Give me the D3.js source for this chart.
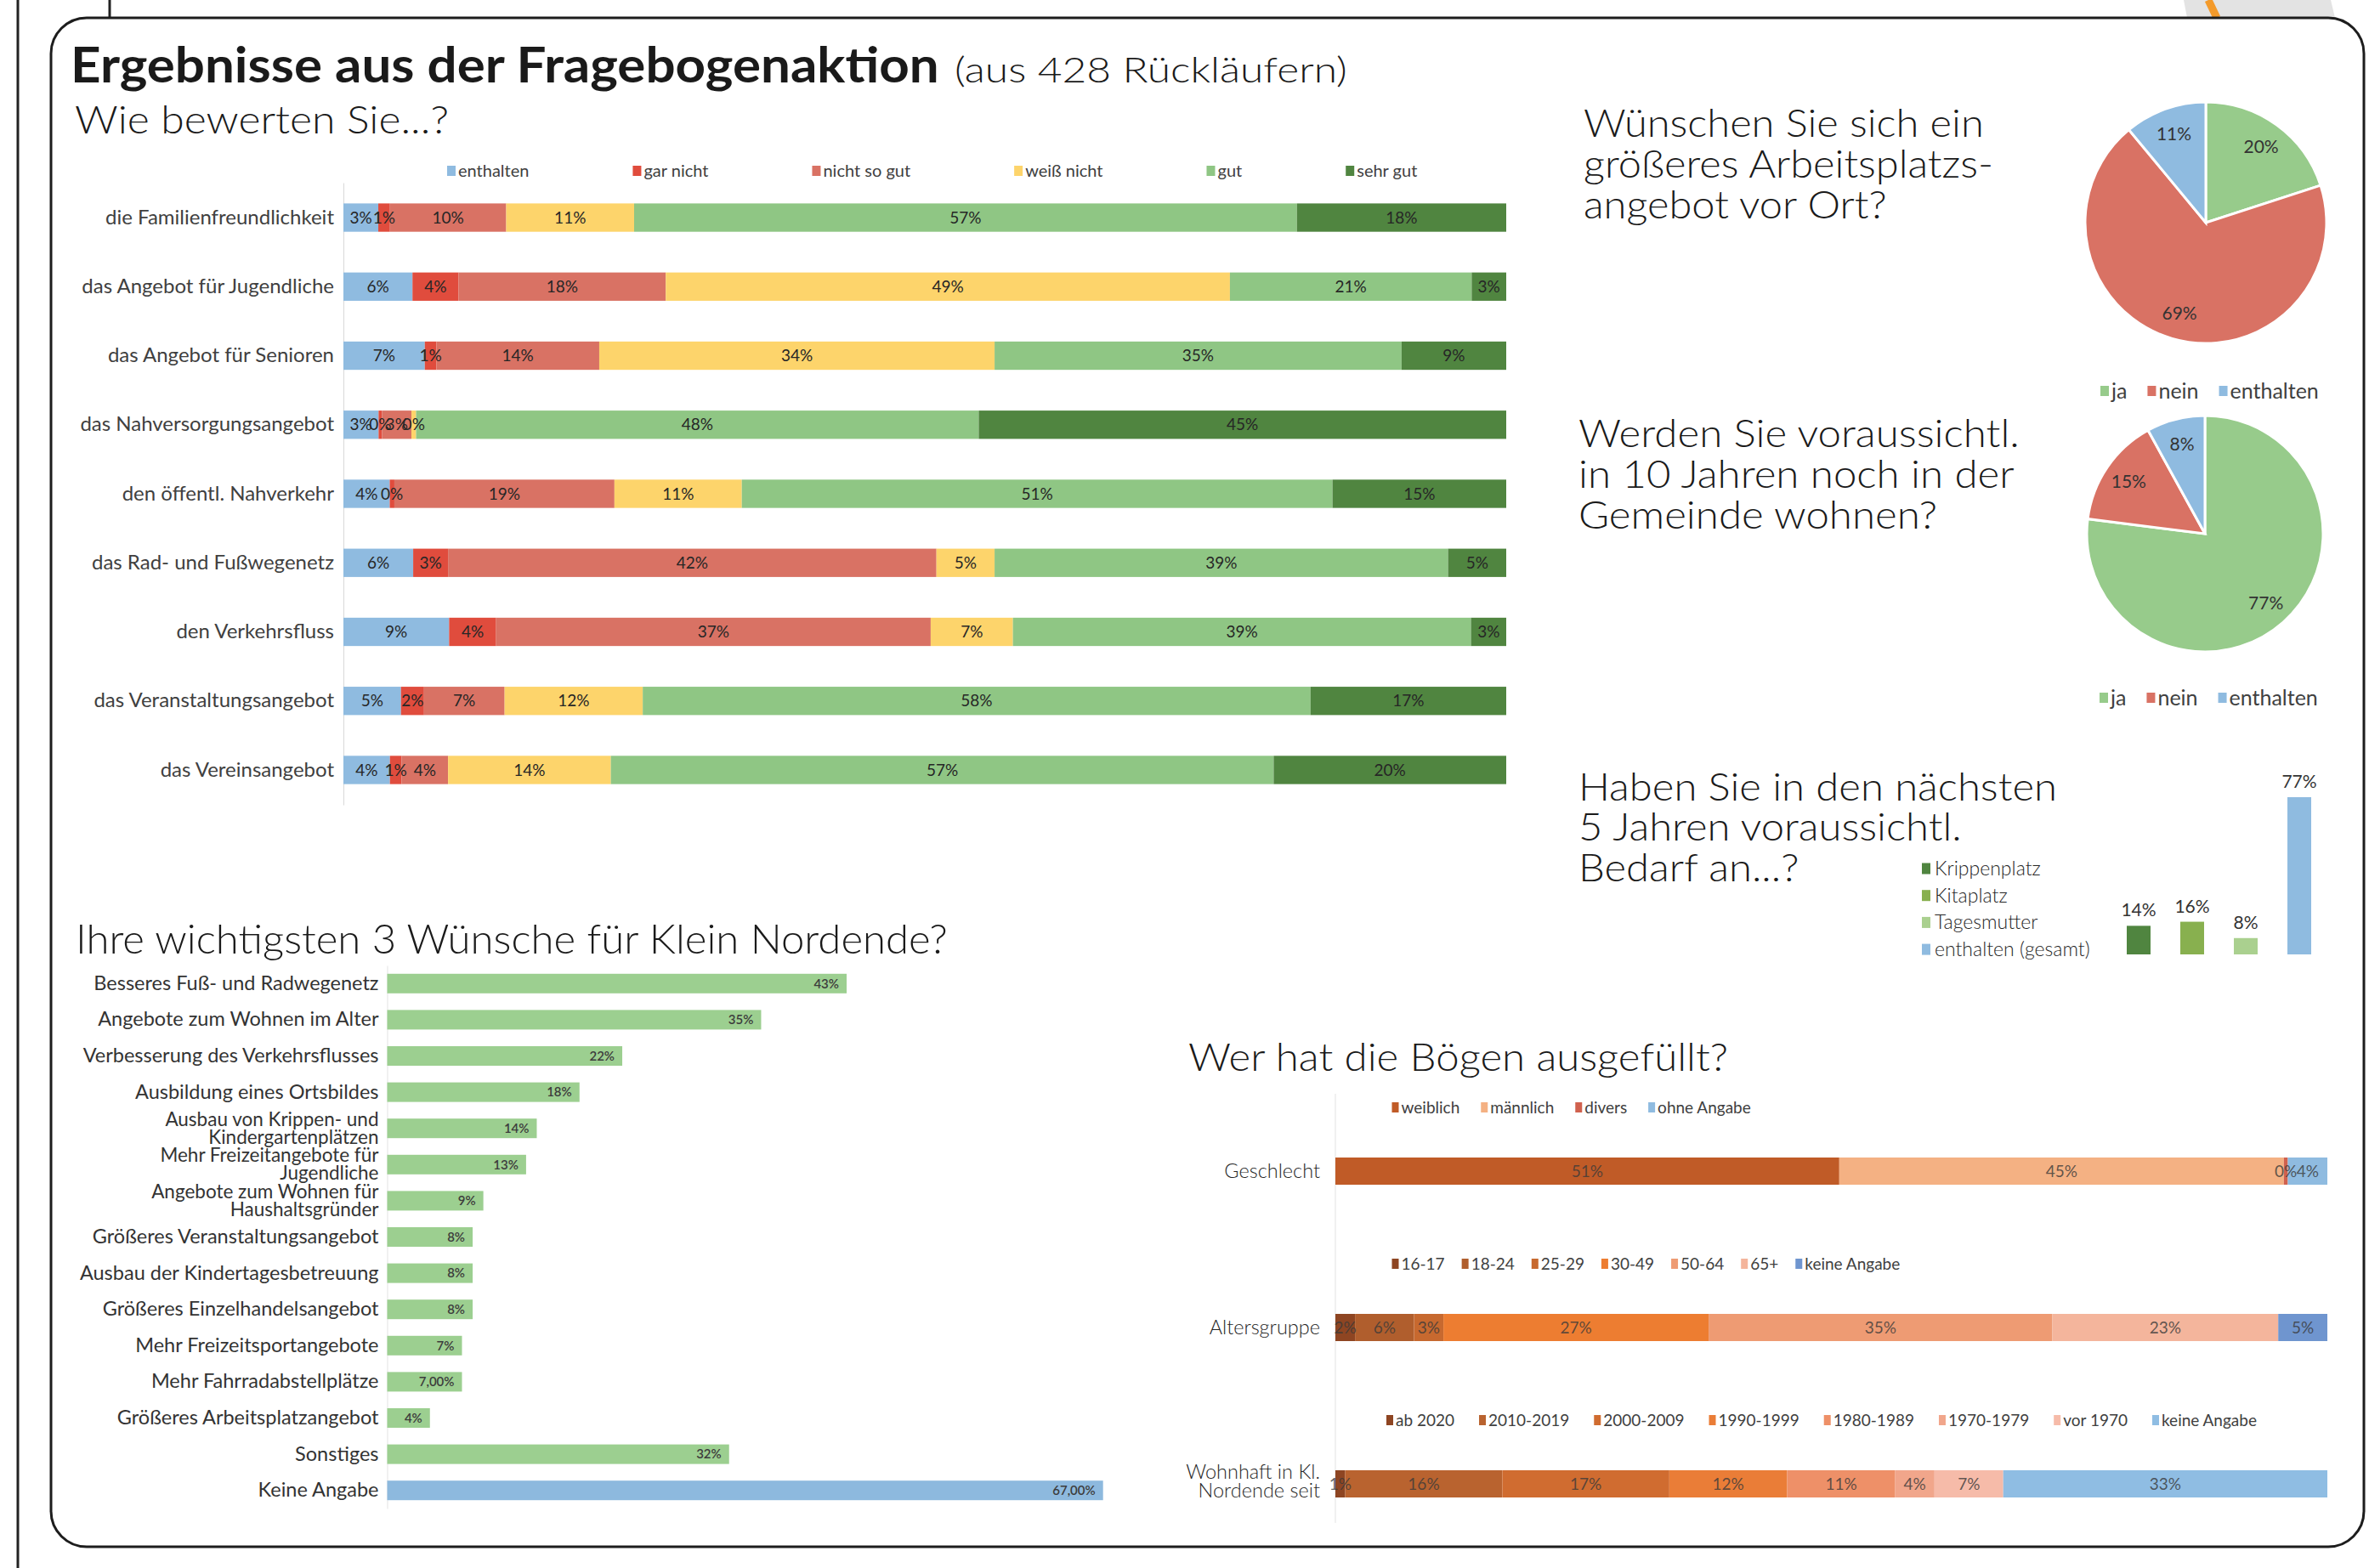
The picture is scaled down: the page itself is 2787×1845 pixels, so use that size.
<!DOCTYPE html>
<html>
<head>
<meta charset="utf-8">
<script src="https://cdn.jsdelivr.net/npm/d3@7"></script>
<style>
  body { margin: 0; background: #fff; }
  svg text { font-family: Lato, "Open Sans", sans-serif; }
</style>
</head>
<body>
<script>
// ---- Wie bewerten Sie...?
const ratingCats = ["die Familienfreundlichkeit", "das Angebot für Jugendliche", "das Angebot für Senioren",
  "das Nahversorgungsangebot", "den öffentl. Nahverkehr", "das Rad- und Fußwegenetz",
  "den Verkehrsfluss", "das Veranstaltungsangebot", "das Vereinsangebot"];
const ratingKeys = ["enthalten", "gar nicht", "nicht so gut", "weiß nicht", "gut", "sehr gut"];
const ratingValues = [
  [3, 1, 10, 11, 57, 18],
  [6, 4, 18, 49, 21, 3],
  [7, 1, 14, 34, 35, 9],
  [3, 0.3, 2.5, 0.4, 48, 45],
  [4, 0.4, 19, 11, 51, 15],
  [6, 3, 42, 5, 39, 5],
  [9, 4, 37, 7, 39, 3],
  [5, 2, 7, 12, 58, 17],
  [4, 1, 4, 14, 57, 20]
];
const ratingColors = ["#8fbbe0", "#e04c3d", "#d97264", "#fdd46b", "#8fc684", "#508540"];

// ---- Pies
const pieKeys = ["ja", "nein", "enthalten"];
const arbeitValues = [20, 69, 11];
const bleibenValues = [77, 15, 8];
const pieColors = ["#97cb8b", "#d97264", "#8fbbe0"];

// ---- Bedarf an...
const bedarfCats = ["Krippenplatz", "Kitaplatz", "Tagesmutter", "enthalten (gesamt)"];
const bedarfValues = [14, 16, 8, 77];
const bedarfColors = ["#508540", "#88b04f", "#aad08f", "#8fbbe0"];

// ---- Wünsche
const wishCats = ["Besseres Fuß- und Radwegenetz", "Angebote zum Wohnen im Alter", "Verbesserung des Verkehrsflusses",
  "Ausbildung eines Ortsbildes", "Ausbau von Krippen- und|Kindergartenplätzen", "Mehr Freizeitangebote für|Jugendliche",
  "Angebote zum Wohnen für|Haushaltsgründer", "Größeres Veranstaltungsangebot", "Ausbau der Kindertagesbetreuung",
  "Größeres Einzelhandelsangebot", "Mehr Freizeitsportangebote", "Mehr Fahrradabstellplätze",
  "Größeres Arbeitsplatzangebot", "Sonstiges", "Keine Angabe"];
const wishValues = [43, 35, 22, 18, 14, 13, 9, 8, 8, 8, 7, 7, 4, 32, 67];
const wishValueText = ["43%", "35%", "22%", "18%", "14%", "13%", "9%", "8%", "8%", "8%", "7%", "7,00%", "4%", "32%", "67,00%"];

// ---- Wer hat die Bögen ausgefüllt?
const groupCats = ["Geschlecht", "Altersgruppe", "Wohnhaft in Kl.|Nordende seit"];
const geschlechtKeys = ["weiblich", "männlich", "divers", "ohne Angabe"];
const geschlechtValues = [51, 45, 0.4, 4];
const geschlechtColors = ["#c05b27", "#f4b183", "#d0614e", "#8fbbe0"];
const alterKeys = ["16-17", "18-24", "25-29", "30-49", "50-64", "65+", "keine Angabe"];
const alterValues = [2, 6, 3, 27, 35, 23, 5];
const alterColors = ["#8e4522", "#b05e2d", "#c7692f", "#ed7d31", "#ee9b73", "#f4b59c", "#6f95cf"];
const wohnKeys = ["ab 2020", "2010-2019", "2000-2009", "1990-1999", "1980-1989", "1970-1979", "vor 1970", "keine Angabe"];
const wohnValues = [1, 16, 17, 12, 11, 4, 7, 33];
const wohnColors = ["#8e4522", "#b9632f", "#d06c30", "#ea7d37", "#ee9068", "#f1a68b", "#f6bba9", "#8fbde3"];

const W = 2787, H = 1845;
const svg = d3.select("body").append("svg").attr("width", W).attr("height", H);
svg.append("rect").attr("width", W).attr("height", H).attr("fill", "#fff");

// page decoration around the frame
svg.append("polygon").attr("points", "2569,0 2742,0 2747,21 2573,21").attr("fill", "#e3e3e3");
svg.append("line").attr("x1", 2598).attr("y1", 0).attr("x2", 2608).attr("y2", 21)
  .attr("stroke", "#f39a2b").attr("stroke-width", 9);
svg.append("line").attr("x1", 21).attr("y1", 0).attr("x2", 21).attr("y2", H).attr("stroke", "#222").attr("stroke-width", 3);
svg.append("line").attr("x1", 129).attr("y1", 0).attr("x2", 129).attr("y2", 21).attr("stroke", "#222").attr("stroke-width", 3);
svg.append("rect").attr("x", 60).attr("y", 21).attr("width", 2721).attr("height", 1799).attr("rx", 42)
  .attr("fill", "#fff").attr("stroke", "#1d1d1d").attr("stroke-width", 3);

// text block, squeezed horizontally so the first line gets the width of the original
function block(lines, x, y, lh, size, weight, w0) {
  const g = svg.append("g");
  const t = g.selectAll("text").data(lines).join("text")
    .attr("x", x).attr("y", (d, i) => y + i * lh)
    .attr("font-size", size).attr("font-weight", weight).attr("fill", "#1a1a1a")
    .text(d => d);
  const k = w0 / t.node().getComputedTextLength();
  g.attr("transform", `translate(${x},0) scale(${k},1) translate(${-x},0)`);
  return g;
}

block(["Ergebnisse aus der Fragebogenaktion"], 83, 97, 0, 58, 700, 1022);
block(["(aus 428 Rückläufern)"], 1123, 97, 0, 42, 300, 462);
block(["Wie bewerten Sie...?"], 88, 157, 0, 46, 300, 440);
block(["Wünschen Sie sich ein", "größeres Arbeitsplatzs-", "angebot vor Ort?"], 1863, 161, 48, 46, 300, 471);
block(["Werden Sie voraussichtl.", "in 10 Jahren noch in der", "Gemeinde wohnen?"], 1857, 526, 48, 46, 300, 519);
block(["Haben Sie in den nächsten", "5 Jahren voraussichtl.", "Bedarf an...?"], 1857, 942, 47.5, 46, 300, 563);
block(["Ihre wichtigsten 3 Wünsche für Klein Nordende?"], 89, 1122, 0, 47, 300, 1026);
block(["Wer hat die Bögen ausgefüllt?"], 1398, 1260, 0, 46, 300, 635);

// horizontal legend, items spaced by text width
function legend(keys, colors, x0, y, gap, size, sw, sh) {
  let lx = x0;
  keys.forEach((k, i) => {
    svg.append("rect").attr("x", lx).attr("y", y - sh / 2).attr("width", sw).attr("height", sh).attr("fill", colors[i]);
    const t = svg.append("text").attr("x", lx + sw + 3).attr("y", y).attr("dy", "0.35em")
      .attr("font-size", size).attr("fill", "#404040").text(k);
    lx += sw + 3 + t.node().getComputedTextLength() + gap;
  });
}

// ===== Wie bewerten Sie...?
const xR = d3.scaleLinear().domain([0, 1]).range([404, 1772]);
const yR = d3.scaleBand().domain(ratingCats).range([215, 947]).paddingInner(0.59).paddingOuter(0.3);
const ratingRows = ratingCats.map((c, i) => {
  const o = { cat: c };
  ratingKeys.forEach((k, j) => o[k] = ratingValues[i][j]);
  return o;
});
const ratingStack = d3.stack().keys(ratingKeys).offset(d3.stackOffsetExpand)(ratingRows);

svg.append("g").attr("transform", `translate(${xR(0)},0)`)
  .call(d3.axisLeft(yR).tickSize(0).tickSizeOuter(0).tickPadding(11))
  .call(g => g.select(".domain").attr("stroke", "#d9d9d9"))
  .call(g => g.selectAll("text").attr("font-family", "Lato").attr("font-size", 24)
    .attr("font-weight", 400).attr("fill", "#404040"));

const rSeries = svg.append("g").selectAll("g").data(ratingStack).join("g")
  .attr("fill", (d, i) => ratingColors[i]);
rSeries.selectAll("rect").data(d => d).join("rect")
  .attr("x", d => xR(d[0])).attr("width", d => xR(d[1]) - xR(d[0]))
  .attr("y", d => yR(d.data.cat)).attr("height", yR.bandwidth());
svg.append("g").selectAll("g").data(ratingStack).join("g")
  .selectAll("text").data(d => d.map(v => ({ v, key: d.key }))).join("text")
  .attr("x", d => (xR(d.v[0]) + xR(d.v[1])) / 2)
  .attr("y", d => yR(d.v.data.cat) + yR.bandwidth() / 2).attr("dy", "0.35em")
  .attr("text-anchor", "middle").attr("font-size", 19).attr("fill", "#262626")
  .text(d => Math.round(d.v.data[d.key]) + "%");

legend(ratingKeys, ratingColors, 526, 201, 122, 20, 10, 12);

// ===== Pies
function pieChart(values, cx, cy, r, legendY) {
  const arcs = d3.pie().sort(null).value(d => d)(values);
  const arc = d3.arc().innerRadius(0).outerRadius(r);
  const labelArc = d3.arc().innerRadius(r * 0.78).outerRadius(r * 0.78);
  const g = svg.append("g").attr("transform", `translate(${cx},${cy})`);
  g.selectAll("path").data(arcs).join("path")
    .attr("d", arc).attr("fill", (d, i) => pieColors[i])
    .attr("stroke", "#fff").attr("stroke-width", 3);
  g.selectAll("text").data(arcs).join("text")
    .attr("transform", d => `translate(${labelArc.centroid(d)})`).attr("dy", "0.35em")
    .attr("text-anchor", "middle").attr("font-size", 21).attr("fill", "#333")
    .text(d => d.data + "%");
  legend(pieKeys, pieColors, cx - 124, legendY, 24, 25, 10, 12);
}
pieChart(arbeitValues, 2595, 262, 142, 460);
pieChart(bleibenValues, 2594, 628, 139, 821);

// ===== Bedarf an...?
const xB = d3.scaleBand().domain(bedarfCats).range([2470.5, 2750.5]).paddingInner(0.556).paddingOuter(0.5);
const yB = d3.scaleLinear().domain([0, d3.max(bedarfValues)]).range([1123, 938]);
svg.append("g").selectAll("rect").data(bedarfCats).join("rect")
  .attr("x", d => xB(d)).attr("width", xB.bandwidth())
  .attr("y", (d, i) => yB(bedarfValues[i])).attr("height", (d, i) => yB(0) - yB(bedarfValues[i]))
  .attr("fill", (d, i) => bedarfColors[i]);
svg.append("g").selectAll("text").data(bedarfCats).join("text")
  .attr("x", d => xB(d) + xB.bandwidth() / 2).attr("y", (d, i) => yB(bedarfValues[i]) - 11)
  .attr("text-anchor", "middle").attr("font-size", 21).attr("fill", "#333")
  .text((d, i) => bedarfValues[i] + "%");
const bl = svg.append("g").selectAll("g").data(bedarfCats).join("g")
  .attr("transform", (d, i) => `translate(2261,${1022 + i * 31.7})`);
bl.append("rect").attr("y", -6.5).attr("width", 10).attr("height", 13).attr("fill", (d, i) => bedarfColors[i]);
bl.append("text").attr("x", 15).attr("dy", "0.35em").attr("font-size", 23).attr("font-weight", 300)
  .attr("fill", "#262626").text(d => d);

// ===== Wünsche
const xW = d3.scaleLinear().domain([0, 100]).range([455.5, 1712.5]);
const yW = d3.scaleBand().domain(wishCats).range([1136, 1775]).paddingInner(0.46).paddingOuter(0.23);
svg.append("g").attr("transform", `translate(${xW(0)},0)`)
  .call(d3.axisLeft(yW).tickSize(0).tickSizeOuter(0).tickPadding(10))
  .call(g => g.select(".domain").attr("stroke", "#e3e3e3"))
  .call(g => g.selectAll("text").attr("font-family", "Lato").attr("font-size", 23.5)
    .attr("font-weight", 400).attr("fill", "#333")
    .each(function (d) {
      const parts = d.split("|");
      if (parts.length < 2) return;
      const t = d3.select(this).text(null).attr("dy", null).attr("font-size", 22.5);
      parts.forEach((p, i) => t.append("tspan").attr("x", -10).attr("y", i ? 18 : -3).text(p));
    }));
svg.append("g").selectAll("rect").data(wishCats).join("rect")
  .attr("x", xW(0)).attr("y", d => yW(d)).attr("height", yW.bandwidth())
  .attr("width", (d, i) => xW(wishValues[i]) - xW(0))
  .attr("fill", d => d === "Keine Angabe" ? "#8db9de" : "#9ccf90");
svg.append("g").selectAll("text").data(wishCats).join("text")
  .attr("x", (d, i) => xW(wishValues[i]) - 9).attr("y", d => yW(d) + yW.bandwidth() / 2).attr("dy", "0.35em")
  .attr("text-anchor", "end").attr("font-size", 15).attr("font-weight", 600).attr("fill", "#3c3c3c")
  .text((d, i) => wishValueText[i]);

// ===== Wer hat die Bögen ausgefüllt?
const xG = d3.scaleLinear().domain([0, 1]).range([1571, 2738]);
const yG = d3.scalePoint().domain(groupCats).range([1378, 1746]);
const barH = 32;
svg.append("line").attr("x1", xG(0)).attr("x2", xG(0))
  .attr("y1", yG(groupCats[0]) - 91).attr("y2", yG(groupCats[2]) + 46).attr("stroke", "#e3e3e3");

const groups = [
  { cat: groupCats[0], keys: geschlechtKeys, values: geschlechtValues, colors: geschlechtColors, lx: 1637.5, gap: 25 },
  { cat: groupCats[1], keys: alterKeys, values: alterValues, colors: alterColors, lx: 1637.5, gap: 20 },
  { cat: groupCats[2], keys: wohnKeys, values: wohnValues, colors: wohnColors, lx: 1631, gap: 29 }
];
groups.forEach(gr => {
  const row = {};
  gr.keys.forEach((k, i) => row[k] = gr.values[i]);
  const st = d3.stack().keys(gr.keys).offset(d3.stackOffsetExpand)([row]);
  const cy = yG(gr.cat);
  const g = svg.append("g");
  g.selectAll("rect").data(st).join("rect")
    .attr("x", d => xG(d[0][0])).attr("width", d => xG(d[0][1]) - xG(d[0][0]))
    .attr("y", cy - barH / 2).attr("height", barH).attr("fill", (d, i) => gr.colors[i]);
  g.selectAll("text").data(st).join("text")
    .attr("x", d => (xG(d[0][0]) + xG(d[0][1])) / 2).attr("y", cy).attr("dy", "0.35em")
    .attr("text-anchor", "middle").attr("font-size", 19).attr("fill", "#3a3a3a").attr("fill-opacity", 0.8)
    .text(d => Math.round(row[d.key]) + "%");
  const parts = gr.cat.split("|");
  svg.append("text").attr("text-anchor", "end").attr("font-size", 23.5).attr("font-weight", 300).attr("fill", "#262626")
    .selectAll("tspan").data(parts).join("tspan")
    .attr("x", xG(0) - 18)
    .attr("y", (p, i) => parts.length > 1 ? cy + (i ? 15.5 : -6.5) : cy + 8)
    .text(p => p);
  legend(gr.keys, gr.colors, gr.lx, cy - 75, gr.gap, 19, 8, 12);
});
</script>
</body>
</html>
